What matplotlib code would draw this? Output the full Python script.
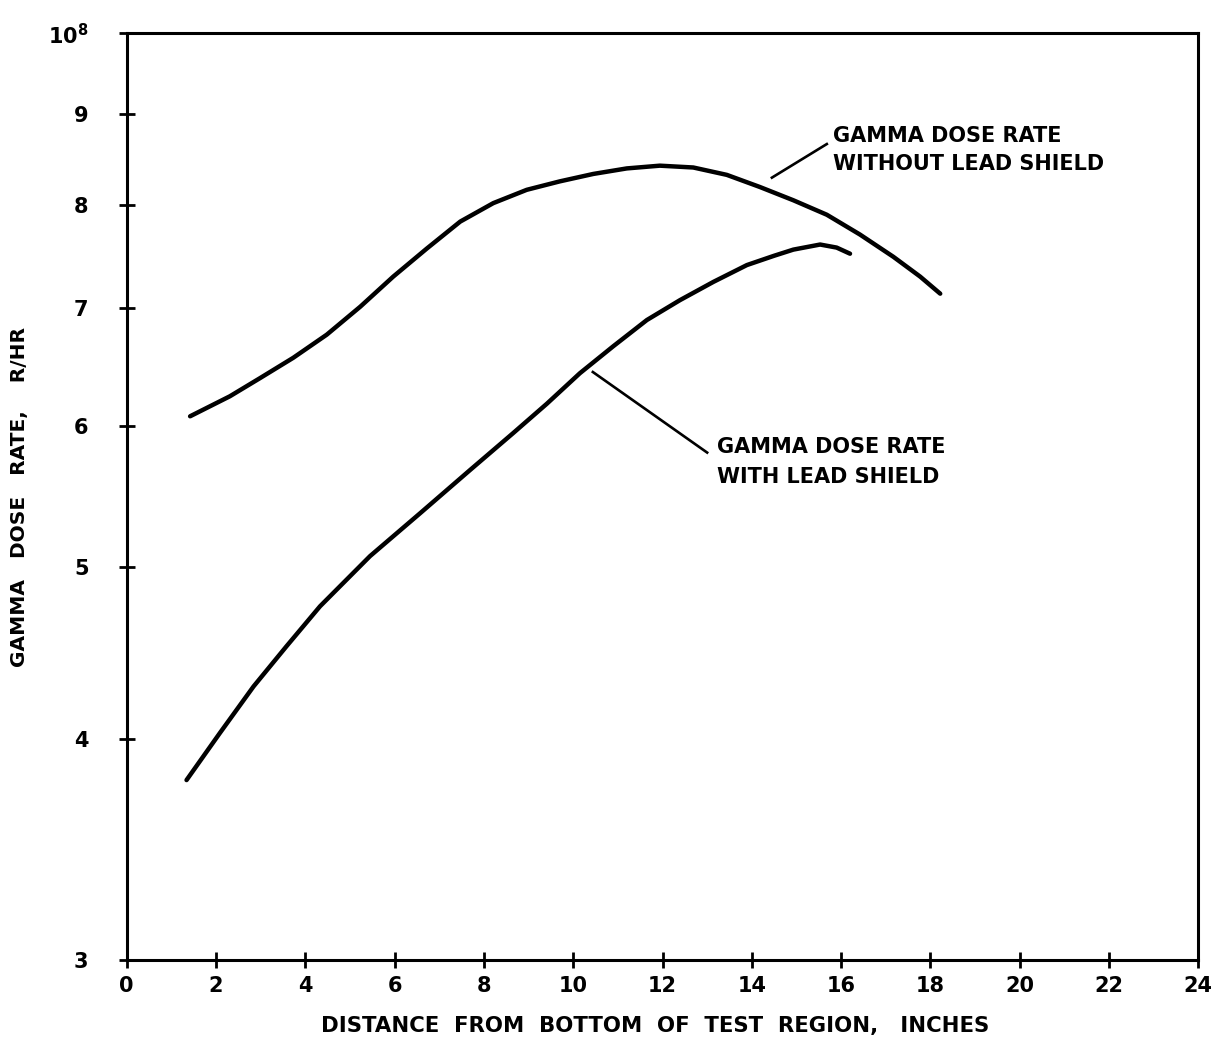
import matplotlib
matplotlib.use("Agg")
import matplotlib.pyplot as plt
from matplotlib.ticker import FixedLocator, NullLocator

# ---- data ----
x_without = [1.42, 2.31, 2.99, 3.73, 4.48, 5.23, 5.97, 6.72, 7.47, 8.21, 8.96, 9.70,
             10.45, 11.20, 11.94, 12.69, 13.44, 14.18, 14.93, 15.68, 16.42, 17.17, 17.77, 18.22]
y_without = [6.08, 6.24, 6.39, 6.56, 6.76, 7.01, 7.29, 7.56, 7.83, 8.02, 8.16, 8.25,
             8.33, 8.39, 8.42, 8.40, 8.32, 8.19, 8.05, 7.90, 7.70, 7.48, 7.29, 7.13]  # x 1e7

x_with = [1.34, 2.09, 2.84, 3.58, 4.33, 5.45, 6.57, 7.69, 8.66, 9.41, 10.15, 10.90,
          11.65, 12.39, 13.14, 13.89, 14.50, 14.93, 15.53, 15.90, 16.20]
y_with = [3.79, 4.03, 4.28, 4.51, 4.75, 5.07, 5.36, 5.67, 5.95, 6.18, 6.43, 6.66,
          6.89, 7.07, 7.24, 7.40, 7.49, 7.55, 7.60, 7.57, 7.51]  # x 1e7

x_ticks = list(range(0, 25, 2))
y_ticks = [3, 4, 5, 6, 7, 8, 9, 10]  # x 1e7
y_tick_labels = ["3", "4", "5", "6", "7", "8", "9", r"$\mathbf{10^8}$"]

label_without = ["GAMMA DOSE RATE", "WITHOUT LEAD SHIELD"]
label_with = ["GAMMA DOSE RATE", "WITH LEAD SHIELD"]
xlabel = "DISTANCE  FROM  BOTTOM  OF  TEST  REGION,   INCHES"
ylabel = "GAMMA   DOSE   RATE,    R/HR"

# ---- figure ----
plt.rcParams['font.family'] = ['DejaVu Sans']
plt.rcParams['font.weight'] = 'bold'
plt.rcParams['mathtext.default'] = 'bf'

fig = plt.figure(figsize=(12.16, 10.38), dpi=100)
ax = fig.add_axes([126.7 / 1216, 1 - 960 / 1038, (1198.3 - 126.7) / 1216, (960 - 33.3) / 1038])

sc = 1e7
ax.plot(x_without, [v * sc for v in y_without], color='black', lw=3.2,
        solid_capstyle='round', solid_joinstyle='round')
ax.plot(x_with, [v * sc for v in y_with], color='black', lw=3.2,
        solid_capstyle='round', solid_joinstyle='round')

ax.set_yscale('log')
ax.set_xlim(0, 24)
ax.set_ylim(3 * sc, 10 * sc)
ax.xaxis.set_major_locator(FixedLocator(x_ticks))
ax.set_xticklabels([str(t) for t in x_ticks])
ax.yaxis.set_major_locator(FixedLocator([v * sc for v in y_ticks]))
ax.yaxis.set_minor_locator(NullLocator())
ax.set_yticklabels(y_tick_labels)

for s in ax.spines.values():
    s.set_linewidth(2.2)
ax.tick_params(axis='both', which='major', direction='inout', length=11, width=2,
               labelsize=15)
ax.tick_params(axis='x', pad=6)
ax.tick_params(axis='y', pad=22)

ax.set_xlabel(xlabel, fontsize=15.3, fontweight='bold')
ax.xaxis.set_label_coords((655 - 126.7) / 1071.6, -(1032 - 960) / 926.7)
ax.xaxis.label.set_verticalalignment('baseline')
ax.set_ylabel(ylabel, fontsize=14.5, fontweight='bold')
ax.yaxis.set_label_coords((19 - 126.7) / 1071.6, 0.5)
ax.yaxis.label.set_verticalalignment('center')

# leader lines
ax.plot([14.45, 15.68], [8.29 * sc, 8.66 * sc], color='black', lw=1.9)
ax.plot([10.44, 13.00], [6.44 * sc, 5.80 * sc], color='black', lw=1.9)

# annotation texts
ax.text(15.82, 8.684 * sc, label_without[0], fontsize=15, fontweight='bold', va='baseline')
ax.text(15.82, 8.373 * sc, label_without[1], fontsize=15, fontweight='bold', va='baseline')
ax.text(13.22, 5.797 * sc, label_with[0], fontsize=15, fontweight='bold', va='baseline')
ax.text(13.22, 5.575 * sc, label_with[1], fontsize=15, fontweight='bold', va='baseline')

fig.savefig("out.png", dpi=100, facecolor='white')
